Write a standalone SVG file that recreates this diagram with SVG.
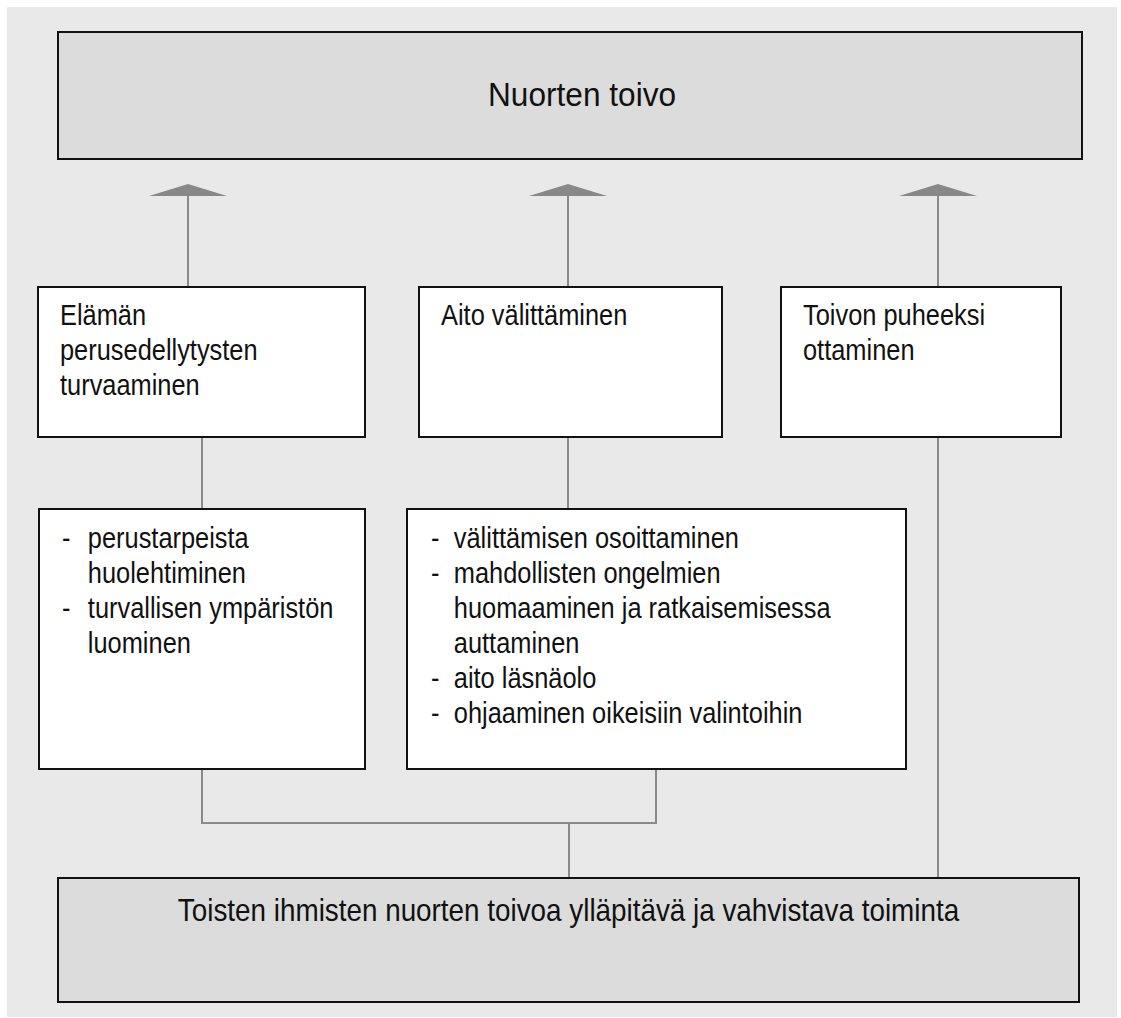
<svg xmlns="http://www.w3.org/2000/svg" width="1121" height="1018" viewBox="0 0 1121 1018">
  <style>
    .bg { fill: #e9e9e9; }
    .box-main { fill: #dcdcdc; stroke: #111; stroke-width: 2; }
    .box { fill: #ffffff; stroke: #111; stroke-width: 2; }
    .link { fill: none; stroke: #8a8a8a; stroke-width: 2; }
    .head { fill: #888888; }
    .t { font-family: "Liberation Sans", Arial, sans-serif; fill: #111; }
    .big { font-size: 32px; }
    .small { font-size: 29px; }
  </style>

  <rect class="bg" x="7" y="7" width="1110" height="1010"/>

  <!-- connectors -->
  <g id="connectors">
    <line class="link" x1="188" y1="194" x2="188" y2="287"/>
    <line class="link" x1="568" y1="194" x2="568" y2="287"/>
    <line class="link" x1="938" y1="194" x2="938" y2="287"/>
    <polygon class="head" points="188,184 227,196 149,196"/>
    <polygon class="head" points="568,184 607,196 529,196"/>
    <polygon class="head" points="938,184 977,196 899,196"/>
    <line class="link" x1="202" y1="437" x2="202" y2="509"/>
    <line class="link" x1="568" y1="437" x2="568" y2="509"/>
    <line class="link" x1="938" y1="437" x2="938" y2="878"/>
    <polyline class="link" points="202,769 202,823 656,823 656,769"/>
    <line class="link" x1="569" y1="823" x2="569" y2="878"/>
  </g>

  <!-- goal -->
  <g id="nuorten-toivo">
    <rect class="box-main" x="58" y="32" width="1024" height="127"/>
    <text class="t" font-size="34" transform="translate(488,106) scale(0.93,1)">Nuorten toivo</text>
  </g>

  <!-- three ways of acting -->
  <g id="perusedellytykset">
    <rect class="box" x="38" y="287" width="327" height="150"/>
    <text class="t small" transform="translate(60,325) scale(0.876,1)">
      <tspan x="0" y="0">Elämän</tspan>
      <tspan x="0" y="35">perusedellytysten</tspan>
      <tspan x="0" y="70">turvaaminen</tspan>
    </text>
  </g>

  <g id="aito-valittaminen">
    <rect class="box" x="419" y="287" width="303" height="150"/>
    <text class="t small" transform="translate(441,325) scale(0.876,1)">
      <tspan x="0" y="0">Aito välittäminen</tspan>
    </text>
  </g>

  <g id="toivon-puheeksi">
    <rect class="box" x="781" y="287" width="280" height="150"/>
    <text class="t small" transform="translate(803,325) scale(0.876,1)">
      <tspan x="0" y="0">Toivon puheeksi</tspan>
      <tspan x="0" y="35">ottaminen</tspan>
    </text>
  </g>

  <!-- details -->
  <g id="perustarpeet">
    <rect class="box" x="39" y="509" width="326" height="260"/>
    <text class="t small" transform="translate(62,548) scale(0.876,1)">
      <tspan x="0" y="0">-</tspan><tspan x="29.5" y="0">perustarpeista</tspan>
      <tspan x="29.5" y="35">huolehtiminen</tspan>
      <tspan x="0" y="70">-</tspan><tspan x="29.5" y="70">turvallisen ympäristön</tspan>
      <tspan x="29.5" y="105">luominen</tspan>
    </text>
  </g>

  <g id="valittamisen-keinot">
    <rect class="box" x="407" y="509" width="499" height="260"/>
    <text class="t small" transform="translate(431,548) scale(0.876,1)">
      <tspan x="0" y="0">-</tspan><tspan x="26" y="0">välittämisen osoittaminen</tspan>
      <tspan x="0" y="35">-</tspan><tspan x="26" y="35">mahdollisten ongelmien</tspan>
      <tspan x="26" y="70">huomaaminen ja ratkaisemisessa</tspan>
      <tspan x="26" y="105">auttaminen</tspan>
      <tspan x="0" y="140">-</tspan><tspan x="26" y="140">aito läsnäolo</tspan>
      <tspan x="0" y="175">-</tspan><tspan x="26" y="175">ohjaaminen oikeisiin valintoihin</tspan>
    </text>
  </g>

  <!-- source -->
  <g id="toiminta">
    <rect class="box-main" x="58" y="878" width="1021" height="124"/>
    <text class="t big" transform="translate(568.5,921) scale(0.87,1)" text-anchor="middle">Toisten ihmisten nuorten toivoa ylläpitävä ja vahvistava toiminta</text>
  </g>
</svg>
